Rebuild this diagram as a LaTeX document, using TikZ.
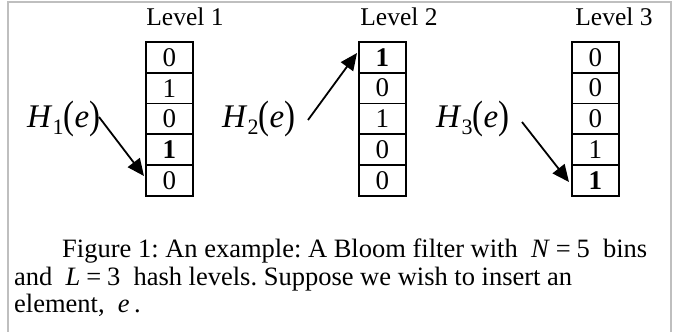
\documentclass[tikz,border=0pt]{standalone}
\usepackage{fontspec}
\setmainfont{Liberation Serif}
\usetikzlibrary{arrows.meta}
\definecolor{framegray}{RGB}{191,191,191}
\tikzset{
  cellbox/.style={draw=black, line width=1.8pt, minimum width=47pt, minimum height=30.8pt, inner sep=0pt, anchor=north west, font=\fontsize{27}{30}\selectfont},
  levellabel/.style={anchor=base, inner sep=0pt, font=\fontsize{25.5}{29}\selectfont},
  hashlabel/.style={anchor=base west, inner sep=0pt, font=\fontsize{33}{37}\selectfont},
  captionline/.style={anchor=base west, inner sep=0pt, font=\fontsize{26.5}{30}\selectfont\frenchspacing},
  hasharrow/.style={line width=1.8pt, -{Triangle[length=17pt,width=15pt]}},
  framestyle/.style={draw=framegray, line width=2pt}
}
\newcommand{\tallparen}[1]{\raisebox{-0.06em}{\scalebox{1}[1.2]{#1}}}
\newcommand{\hashtxt}[1]{\textit{H}\raisebox{-0.24em}{\fontsize{22}{24}\selectfont #1}\tallparen{(}\textit{e}\tallparen{)}}
\newcommand{\eqsign}{\hspace{0.22em}=\hspace{0.22em}}
\begin{document}
\begin{tikzpicture}[x=1pt,y=-1pt]
\useasboundingbox (0,0) rectangle (681,332);
\fill[white] (0,0) rectangle (681,332);
\draw[framestyle] (8,332) -- (8,2) -- (671,2) -- (671,332);
% level labels
\node[levellabel] (lv1) at (185,26) {Level 1};
\node[levellabel] (lv2) at (399,26) {Level 2};
\node[levellabel] (lv3) at (614,26) {Level 3};
% level 1 cells
\node[cellbox] (c11) at (145,41) {0};
\node[cellbox] (c12) at (145,71.8) {1};
\node[cellbox] (c13) at (145,102.6) {0};
\node[cellbox] (c14) at (145,133.4) {\textbf{1}};
\node[cellbox] (c15) at (145,164.2) {0};
% level 2 cells
\node[cellbox] (c21) at (358,41) {\textbf{1}};
\node[cellbox] (c22) at (358,71.8) {0};
\node[cellbox] (c23) at (358,102.6) {1};
\node[cellbox] (c24) at (358,133.4) {0};
\node[cellbox] (c25) at (358,164.2) {0};
% level 3 cells
\node[cellbox] (c31) at (571,41) {0};
\node[cellbox] (c32) at (571,71.8) {0};
\node[cellbox] (c33) at (571,102.6) {0};
\node[cellbox] (c34) at (571,133.4) {1};
\node[cellbox] (c35) at (571,164.2) {\textbf{1}};
% hash labels
\node[hashlabel] (h1) at (27,127) {\hashtxt{1}};
\node[hashlabel] (h2) at (222,127) {\hashtxt{2}};
\node[hashlabel] (h3) at (436,127) {\hashtxt{3}};
% arrows
\coordinate (s1) at (99,117);
\coordinate (t1) at (144,176);
\coordinate (s2) at (308,120);
\coordinate (t2) at (357,53);
\coordinate (s3) at (522,122);
\coordinate (t3) at (569,182);
\draw[hasharrow] (s1) -- (t1);
\draw[hasharrow] (s2) -- (t2);
\draw[hasharrow] (s3) -- (t3);
% caption
\node[captionline] (cap1) at (62,257) {Figure 1: An example: A Bloom filter with~ \textit{N}\eqsign5~ bins};
\node[captionline] (cap2) at (14,285) {and~ \textit{L}\eqsign3~ hash levels. Suppose we wish to insert an};
\node[captionline] (cap3) at (14,312) {element,~ \textit{e}\,.};
\end{tikzpicture}
\end{document}
